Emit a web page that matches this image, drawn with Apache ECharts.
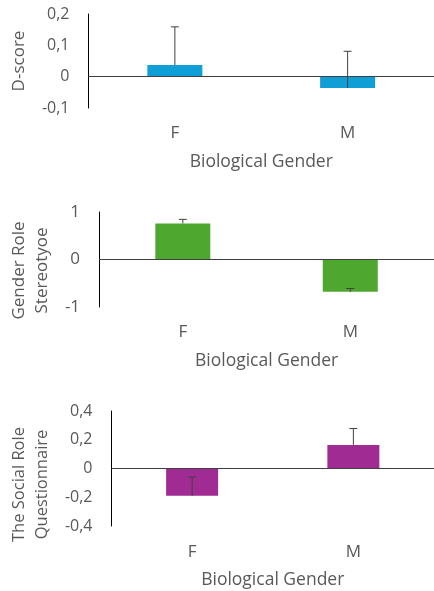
<!DOCTYPE html>
<html>
<head>
<meta charset="utf-8">
<script src="https://cdn.jsdelivr.net/npm/echarts@6/dist/echarts.min.js"></script>
<style>html,body{margin:0;padding:0;background:#fff}#c{width:434px;height:591px}</style>
</head>
<body>
<div id="c"></div>
<script>
// Data
const categories = ['F', 'M'];
const xTitle = 'Biological Gender';

const dScoreValues = [0.037, -0.036];
const dScoreErrors = [0.122, 0.117];

const stereotypeValues = [0.76, -0.68];
const stereotypeErrors = [0.085, 0.07];

const socialRoleValues = [-0.19, 0.164];
const socialRoleErrors = [0.13, 0.114];

const yNames = ['D-score', 'Gender Role\nStereotyoe', 'The Social Role\nQuestionnaire'];
const yRanges = [[-0.1, 0.2, 0.1], [-1, 1, 1], [-0.4, 0.4, 0.2]];

const colors = ['#0F9ED5', '#4EA72E', '#A02B93'];
const FONT = 'Open Sans';
const TXT = '#595959';

const grids = [
  { left: 86, top: 14, width: 357, height: 94 },
  { left: 93, top: 212, width: 348, height: 95 },
  { left: 110, top: 411, width: 330, height: 115 }
];
const tickSizes = [16, 17, 16];
const nameGaps = [55, 36, 53];
const namePads = [[0, 0, 0, 0], [0, 22, 0, 0], [0, 32, 0, 0]];
const nameSizes = [17, 17, 16.5];
const labelMargins = [17, 17, 18];
const titleGaps = [45, 45, 45];

const fmt = v => {
  if (Math.abs(v) < 1e-9) return '0';
  return String(+v.toFixed(2)).replace('.', ',');
};

const allValues = [dScoreValues, stereotypeValues, socialRoleValues];
const allErrors = [dScoreErrors, stereotypeErrors, socialRoleErrors];

const xAxes = [], yAxes = [], series = [];
grids.forEach((g, i) => {
  xAxes.push({
    gridIndex: i, type: 'category', data: categories,
    axisLine: { show: false, onZero: false }, axisTick: { show: false },
    axisLabel: { color: TXT, fontFamily: FONT, fontSize: 17, margin: labelMargins[i] },
    name: xTitle, nameLocation: 'middle', nameGap: titleGaps[i],
    nameTextStyle: { color: TXT, fontFamily: FONT, fontSize: 17.5 }
  });
  yAxes.push({
    gridIndex: i, type: 'value',
    min: yRanges[i][0], max: yRanges[i][1], interval: yRanges[i][2],
    axisLine: { show: true, onZero: false, lineStyle: { color: '#000', width: 1 } },
    axisTick: { show: false }, splitLine: { show: false },
    axisLabel: { color: TXT, fontFamily: FONT, fontSize: tickSizes[i], margin: 19, formatter: fmt },
    name: yNames[i], nameLocation: 'middle', nameGap: nameGaps[i],
    nameTextStyle: { color: TXT, fontFamily: FONT, fontSize: nameSizes[i], lineHeight: 23, padding: namePads[i] }
  });
  series.push({
    type: 'bar', xAxisIndex: i, yAxisIndex: i,
    data: allValues[i], barWidth: i === 2 ? 52 : 55,
    itemStyle: { color: colors[i] },
    markLine: {
      silent: true, symbol: ['none', 'none'], label: { show: false },
      lineStyle: { color: '#404040', type: 'solid', width: 1 },
      data: [{ yAxis: 0 }]
    }
  });
  series.push({
    type: 'custom', xAxisIndex: i, yAxisIndex: i, z: 5,
    data: allValues[i].map((v, k) => [k, v, allErrors[i][k]]),
    renderItem: (params, api) => {
      const k = api.value(0), v = api.value(1), e = api.value(2);
      const p0 = api.coord([k, v]);
      const p1 = api.coord([k, v + e]);
      const st = { stroke: '#404040', lineWidth: 1 };
      return {
        type: 'group',
        children: [
          { type: 'line', shape: { x1: p0[0], y1: p0[1], x2: p1[0], y2: p1[1] }, style: st },
          { type: 'line', shape: { x1: p1[0] - 4, y1: p1[1], x2: p1[0] + 4, y2: p1[1] }, style: st }
        ]
      };
    }
  });
});

const chart = echarts.init(document.getElementById('c'));
chart.setOption({
  animation: false,
  backgroundColor: '#fff',
  grid: grids,
  xAxis: xAxes,
  yAxis: yAxes,
  series: series
});
</script>
</body>
</html>
